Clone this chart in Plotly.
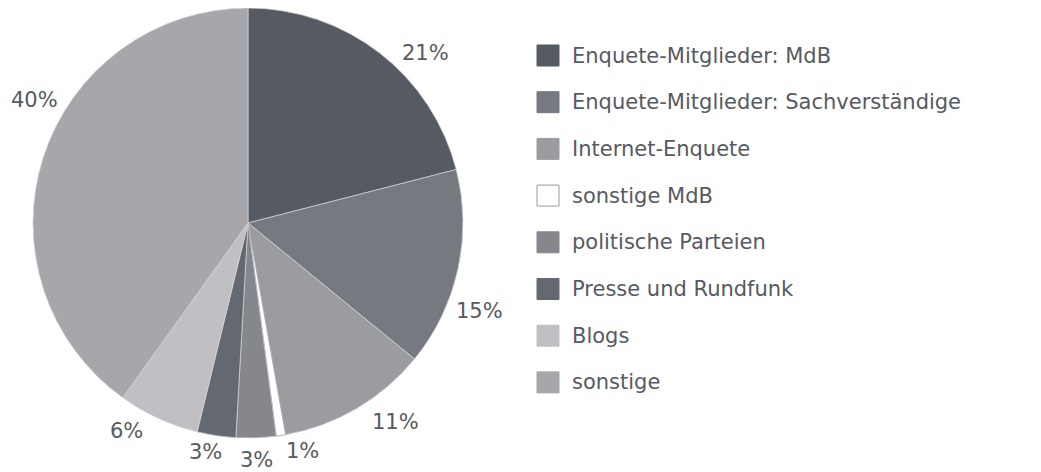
import plotly.graph_objects as go

# ---- data ----
categories = [
    "Enquete-Mitglieder: MdB",
    "Enquete-Mitglieder: Sachverständige",
    "Internet-Enquete",
    "sonstige MdB",
    "politische Parteien",
    "Presse und Rundfunk",
    "Blogs",
    "sonstige",
]
shares = [21.0, 14.9, 11.3, 0.7, 3.0, 2.9, 6.1, 40.1]
colors = ["#555a63", "#767980", "#9b9ca0", "#ffffff", "#86868d", "#646870", "#c0c0c4", "#a7a7ab"]

# ---- styling / layout ----
W, H = 1041, 472
OFF = 8  # page body margin of the html output
TEXT = "#555a63"
FONT = "DejaVu Sans"
edge_colors = ["#8a8a90" if c == "#ffffff" else "#d4d4d8" for c in colors]

def px(x):
    return (x - OFF) / W

def py(y):
    return 1 - (y - OFF) / H

cx, cy, R = 248, 223, 215

fig = go.Figure()
fig.add_trace(go.Pie(
    labels=categories,
    values=shares,
    sort=False,
    direction="clockwise",
    rotation=0,
    marker=dict(colors=colors, line=dict(color=edge_colors, width=0.7)),
    textinfo="none",
    hoverinfo="label+percent",
    showlegend=False,
    domain=dict(x=[px(cx - R), px(cx + R)], y=[max(0, py(cy + R)), min(1, py(cy - R))]),
))

# percentage labels, placed outside the slices
label_xy = [(425, 53), (479, 311), (395, 422), (302, 451), (256, 460), (205, 452), (126, 431), (34, 100)]
total = sum(shares)
annotations = []
for v, (lx, ly) in zip(shares, label_xy):
    annotations.append(dict(
        text=f"{round(v / total * 100)}%", xref="paper", yref="paper",
        x=px(lx), y=py(ly), xanchor="center", yanchor="middle", showarrow=False,
        font=dict(family=FONT, size=21, color=TEXT),
    ))

# legend
shapes = []
for i, (cat, col) in enumerate(zip(categories, colors)):
    yc = 55.5 + 46.7 * i
    shapes.append(dict(
        type="rect", xref="paper", yref="paper",
        x0=px(537), x1=px(559), y0=py(yc + 10.5), y1=py(yc - 10.5),
        fillcolor=col, line=dict(color="#9a9aa0" if col == "#ffffff" else col, width=1),
    ))
    annotations.append(dict(
        text=cat, xref="paper", yref="paper", x=px(570), y=py(yc),
        xanchor="left", yanchor="middle", showarrow=False,
        font=dict(family=FONT, size=21, color=TEXT),
    ))

fig.update_layout(
    width=W, height=H,
    margin=dict(l=0, r=0, t=0, b=0),
    paper_bgcolor="white",
    plot_bgcolor="white",
    shapes=shapes,
    annotations=annotations,
)

fig.write_html("out.html")
